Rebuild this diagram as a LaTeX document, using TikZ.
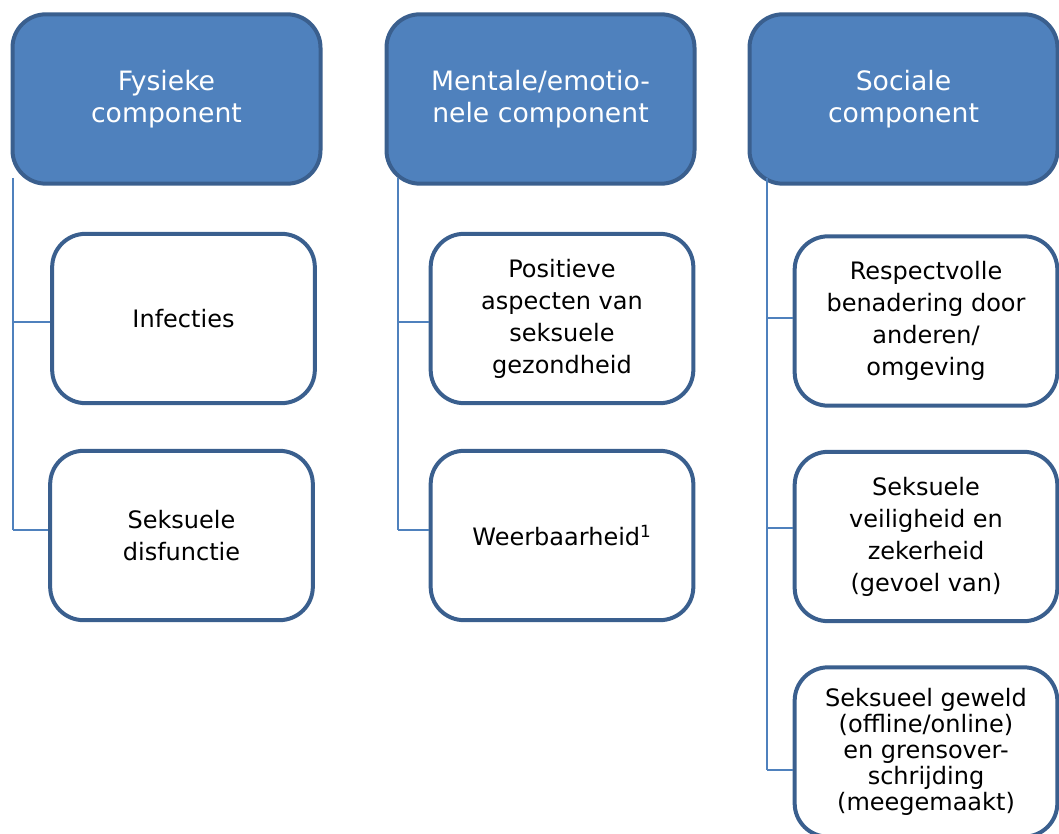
\documentclass[tikz,border=0pt]{standalone}
\usepackage{fontspec}
\setmainfont{DejaVu Sans}

\definecolor{hdrfill}{HTML}{4F81BD}
\definecolor{boxline}{HTML}{3A5F8E}
\definecolor{conline}{HTML}{4F81BD}

\tikzstyle{hdr}=[draw=boxline,line width=3pt,fill=hdrfill,rounded corners=25pt,minimum width=231pt,minimum height=127pt,align=center,text=white,font=\fontsize{20}{24}\selectfont]
\tikzstyle{item}=[draw=boxline,line width=3pt,fill=white,rounded corners=25pt,minimum width=197pt,minimum height=127pt,align=center,font=\fontsize{18}{24}\selectfont]
\tikzstyle{con}=[draw=conline,line width=1.6pt]

\begin{document}
\begin{tikzpicture}[x=0.75pt,y=-0.75pt]
  \useasboundingbox (0,0) rectangle (1059,834);

  \node[hdr] (fysiek) at (166.5,99) {Fysieke\\component};
  \node[hdr] (mentaal) at (540.5,99) {Mentale/emotio-\\nele component};
  \node[hdr] (sociaal) at (903.5,99) {Sociale\\component};

  \node[item] (infecties) at (183.5,318.5) {Infecties};
  \node[item] (disfunctie) at (181.5,535.5) {Seksuele\\disfunctie};

  \node[item] (positief) at (562,318.5) {Positieve\\aspecten van\\seksuele\\gezondheid};
  \node[item] (weerbaar) at (562,535.5) {Weerbaarheid\textsuperscript{1}};

  \node[item] (respect) at (926,321) {Respectvolle\\benadering door\\anderen/\\omgeving};
  \node[item] (veilig) at (926,536.5) {Seksuele\\veiligheid en\\zekerheid\\(gevoel van)};
  \node[item,font=\fontsize{18}{19.5}\selectfont] (geweld) at (926,752) {Seksueel geweld\\(offline/online)\\en grensover-\\schrijding\\(meegemaakt)};

 % trunks
  \coordinate (f0) at (13,178);
  \coordinate (f1) at (13,322);
  \coordinate (f2) at (13,530);
  \coordinate (m0) at (398,178);
  \coordinate (m1) at (398,322);
  \coordinate (m2) at (398,530);
  \coordinate (s0) at (767,178);
  \coordinate (s1) at (767,318);
  \coordinate (s2) at (767,528);
  \coordinate (s3) at (767,770);

  \path (f0) edge [con] (f2);
  \path (f1) edge [con] (f1 -| infecties.west);
  \path (f2) edge [con] (f2 -| disfunctie.west);

  \path (m0) edge [con] (m2);
  \path (m1) edge [con] (m1 -| positief.west);
  \path (m2) edge [con] (m2 -| weerbaar.west);

  \path (s0) edge [con] (s3);
  \path (s1) edge [con] (s1 -| respect.west);
  \path (s2) edge [con] (s2 -| veilig.west);
  \path (s3) edge [con] (s3 -| geweld.west);

\end{tikzpicture}
\end{document}
